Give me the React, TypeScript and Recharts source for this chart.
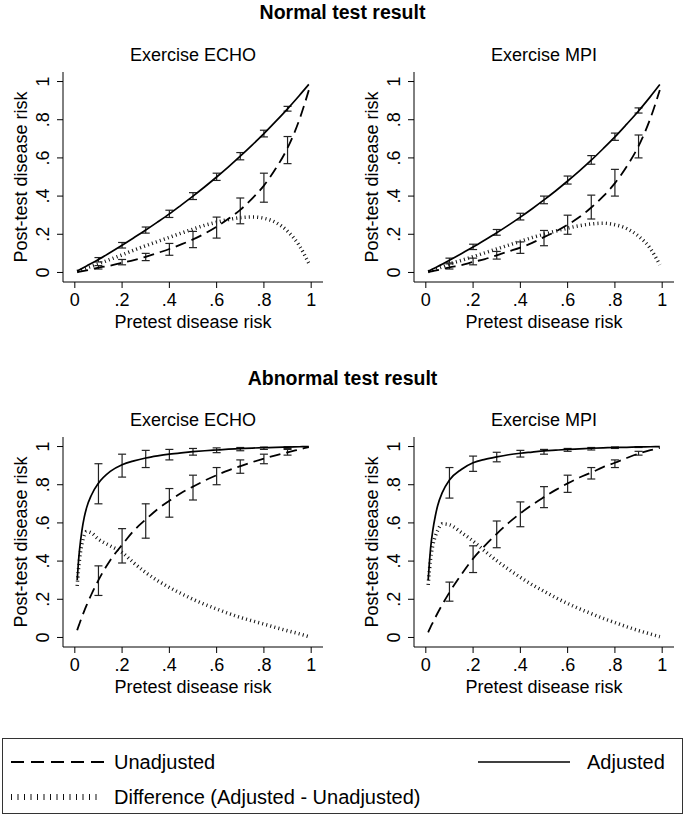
import React from 'react';
import {ComposedChart, Line, XAxis, YAxis, ErrorBar} from 'recharts';

// pretest risk grid for each curve
const normalRisk = [0.01, 0.05, 0.1, 0.15, 0.2, 0.25, 0.3, 0.35, 0.4, 0.45, 0.5, 0.55, 0.6, 0.65, 0.7, 0.75, 0.8, 0.85, 0.9, 0.95, 0.99];
const abnormalRisk = [0.01, 0.015, 0.02, 0.03, 0.04, 0.05, 0.07, 0.1, 0.15, 0.2, 0.25, 0.3, 0.35, 0.4, 0.45, 0.5, 0.55, 0.6, 0.65, 0.7, 0.75, 0.8, 0.85, 0.9, 0.95, 0.99];
// pretest risk where the confidence intervals are drawn
const barRisk = [0.1, 0.2, 0.3, 0.4, 0.5, 0.6, 0.7, 0.8, 0.9];
const riskTicks = [0, 0.2, 0.4, 0.6, 0.8, 1];

// Normal test result, exercise ECHO
const normEchoAdj = [0.007, 0.034, 0.068, 0.105, 0.143, 0.182, 0.222, 0.264, 0.307, 0.353, 0.4, 0.449, 0.5, 0.553, 0.609, 0.667, 0.727, 0.791, 0.857, 0.927, 0.985];
const normEchoUnadj = [0.002, 0.011, 0.025, 0.036, 0.051, 0.065, 0.082, 0.102, 0.123, 0.147, 0.173, 0.204, 0.24, 0.281, 0.328, 0.387, 0.455, 0.544, 0.652, 0.8, 0.955];
const normEchoDiff = [0.005, 0.023, 0.045, 0.069, 0.092, 0.117, 0.14, 0.162, 0.184, 0.206, 0.227, 0.247, 0.263, 0.277, 0.287, 0.291, 0.284, 0.262, 0.216, 0.14, 0.048];
const normEchoAdjLo = [0.055, 0.128, 0.206, 0.288, 0.382, 0.482, 0.59, 0.71, 0.845];
const normEchoAdjHi = [0.078, 0.157, 0.238, 0.326, 0.418, 0.52, 0.628, 0.745, 0.87];
const normEchoUnadjLo = [0.018, 0.04, 0.062, 0.09, 0.13, 0.18, 0.255, 0.368, 0.57];
const normEchoUnadjHi = [0.036, 0.068, 0.1, 0.152, 0.215, 0.29, 0.39, 0.52, 0.712];

// Normal test result, exercise MPI
const normMpiAdj = [0.006, 0.031, 0.064, 0.098, 0.133, 0.17, 0.208, 0.248, 0.29, 0.334, 0.38, 0.428, 0.479, 0.532, 0.588, 0.648, 0.71, 0.777, 0.846, 0.921, 0.984];
const normMpiUnadj = [0.002, 0.012, 0.027, 0.038, 0.055, 0.07, 0.09, 0.11, 0.13, 0.155, 0.185, 0.215, 0.25, 0.29, 0.34, 0.398, 0.468, 0.555, 0.662, 0.807, 0.956];
const normMpiDiff = [0.004, 0.02, 0.045, 0.063, 0.083, 0.103, 0.123, 0.143, 0.163, 0.183, 0.2, 0.217, 0.232, 0.245, 0.254, 0.258, 0.25, 0.23, 0.19, 0.125, 0.04];
const normMpiAdjLo = [0.05, 0.12, 0.195, 0.275, 0.36, 0.463, 0.567, 0.692, 0.835];
const normMpiAdjHi = [0.075, 0.148, 0.225, 0.31, 0.4, 0.505, 0.612, 0.73, 0.862];
const normMpiUnadjLo = [0.018, 0.04, 0.07, 0.1, 0.14, 0.2, 0.28, 0.4, 0.6];
const normMpiUnadjHi = [0.045, 0.075, 0.11, 0.16, 0.22, 0.3, 0.405, 0.54, 0.72];

// Abnormal test result, exercise ECHO
const abnEchoAdj = [0.3, 0.39, 0.46, 0.56, 0.63, 0.68, 0.745, 0.808, 0.87, 0.905, 0.925, 0.94, 0.951, 0.96, 0.967, 0.973, 0.978, 0.982, 0.986, 0.989, 0.992, 0.994, 0.996, 0.997, 0.999, 1.0];
const abnEchoUnadj = [0.038, 0.056, 0.073, 0.107, 0.139, 0.169, 0.225, 0.3, 0.405, 0.485, 0.56, 0.618, 0.672, 0.716, 0.757, 0.79, 0.822, 0.85, 0.875, 0.897, 0.918, 0.937, 0.954, 0.97, 0.985, 0.997];
const abnEchoDiff = [0.27, 0.35, 0.41, 0.49, 0.535, 0.555, 0.548, 0.515, 0.48, 0.445, 0.39, 0.34, 0.298, 0.262, 0.23, 0.2, 0.173, 0.149, 0.126, 0.105, 0.087, 0.07, 0.052, 0.035, 0.019, 0.004];
const abnEchoAdjLo = [0.7, 0.84, 0.89, 0.93, 0.955, 0.968, 0.978, 0.985, 0.99];
const abnEchoAdjHi = [0.91, 0.96, 0.98, 0.985, 0.99, 0.993, 0.995, 0.997, 0.999];
const abnEchoUnadjLo = [0.22, 0.39, 0.52, 0.63, 0.72, 0.8, 0.86, 0.91, 0.955];
const abnEchoUnadjHi = [0.375, 0.57, 0.7, 0.78, 0.85, 0.89, 0.93, 0.96, 0.985];

// Abnormal test result, exercise MPI
const abnMpiAdj = [0.3, 0.39, 0.465, 0.565, 0.635, 0.69, 0.76, 0.825, 0.88, 0.915, 0.933, 0.946, 0.957, 0.965, 0.971, 0.977, 0.981, 0.985, 0.988, 0.991, 0.993, 0.995, 0.996, 0.998, 0.999, 1.0];
const abnMpiUnadj = [0.027, 0.041, 0.054, 0.079, 0.104, 0.128, 0.173, 0.236, 0.329, 0.413, 0.481, 0.543, 0.6, 0.65, 0.695, 0.735, 0.773, 0.807, 0.838, 0.864, 0.892, 0.915, 0.94, 0.963, 0.981, 0.993];
const abnMpiDiff = [0.275, 0.35, 0.41, 0.485, 0.53, 0.56, 0.595, 0.59, 0.55, 0.505, 0.452, 0.402, 0.357, 0.315, 0.276, 0.242, 0.208, 0.178, 0.15, 0.125, 0.1, 0.078, 0.056, 0.036, 0.018, 0.004];
const abnMpiAdjLo = [0.73, 0.87, 0.92, 0.945, 0.96, 0.975, 0.982, 0.99, 0.995];
const abnMpiAdjHi = [0.89, 0.95, 0.97, 0.98, 0.985, 0.99, 0.995, 0.998, 0.999];
const abnMpiUnadjLo = [0.19, 0.34, 0.47, 0.58, 0.68, 0.76, 0.83, 0.89, 0.955];
const abnMpiUnadjHi = [0.29, 0.48, 0.61, 0.71, 0.79, 0.85, 0.89, 0.93, 0.975];

const FONT = '"Liberation Sans", Arial, Helvetica, sans-serif';
const INK = '#000';
const BAR_INK = '#222';

const fmt = (v: number) => (v === 0 ? '0' : v === 1 ? '1' : String(v).replace('0.', '.'));

function buildRows(
  risk: number[],
  adj: number[],
  unadj: number[],
  diff: number[],
  adjLo: number[],
  adjHi: number[],
  unLo: number[],
  unHi: number[],
) {
  return risk.map((x, i) => {
    const row: any = {x, adj: adj[i], unadj: unadj[i], diff: diff[i]};
    const b = barRisk.findIndex(v => Math.abs(v - x) < 1e-9);
    if (b >= 0) {
      row.adjErr = [adj[i] - adjLo[b], adjHi[b] - adj[i]];
      row.unadjErr = [unadj[i] - unLo[b], unHi[b] - unadj[i]];
    }
    return row;
  });
}

const RotatedTick = ({x, y, payload}: any) => (
  <text
    transform={`translate(${x},${y}) rotate(-90)`}
    textAnchor="middle"
    fontSize={18}
    fill={INK}>
    {fmt(payload.value)}
  </text>
);

const yTitle = (props: any) => {
  const vb = props?.viewBox;
  const cx = vb ? vb.x + vb.width - 36.5 : 26.5;
  const cy = vb ? vb.y + vb.height / 2 : 135;
  return (
    <text
      transform={`translate(${cx},${cy}) rotate(-90)`}
      textAnchor="middle"
      fontSize={18}
      fill={INK}>
      Post-test disease risk
    </text>
  );
};

// plot area is 260 x 210, placed 63px in from the left and 30px down inside each chart
function Panel({rows, title, left, top}: {rows: any[]; title: string; left: number; top: number}) {
  return (
    <div style={{position: 'absolute', left: left - 63, top: top - 30, width: 330, height: 295}}>
      <div
        style={{
          position: 'absolute',
          left: 63,
          top: 2,
          width: 260,
          textAlign: 'center',
          fontSize: 18,
          lineHeight: '22px',
          color: INK,
        }}>
        {title}
      </div>
      <ComposedChart width={330} height={295} data={rows} margin={{top: 30, right: 7, bottom: 0, left: 0}}>
        <XAxis
          dataKey="x"
          type="number"
          domain={[-0.05, 1.05]}
          ticks={riskTicks}
          tickFormatter={fmt}
          height={55}
          tickSize={6}
          tickMargin={5}
          axisLine={{stroke: INK}}
          tickLine={{stroke: INK}}
          tick={{fill: INK, fontSize: 18}}
          label={{value: 'Pretest disease risk', position: 'insideBottom', offset: 9, fill: INK, fontSize: 18}}
        />
        <YAxis
          type="number"
          domain={[-0.05, 1.05]}
          ticks={riskTicks}
          width={63}
          tickSize={6}
          tickMargin={8}
          axisLine={{stroke: INK}}
          tickLine={{stroke: INK}}
          tick={<RotatedTick />}
          label={yTitle}
        />
        <Line
          dataKey="diff"
          type="monotone"
          stroke="#111"
          strokeWidth={3.5}
          strokeDasharray="1 3.2"
          dot={false}
          isAnimationActive={false}
        />
        <Line
          dataKey="unadj"
          type="monotone"
          stroke={INK}
          strokeWidth={1.8}
          strokeDasharray="11 6"
          dot={false}
          isAnimationActive={false}>
          <ErrorBar dataKey="unadjErr" width={4} stroke={BAR_INK} strokeWidth={1.2} direction="y" />
        </Line>
        <Line dataKey="adj" type="monotone" stroke={INK} strokeWidth={1.7} dot={false} isAnimationActive={false}>
          <ErrorBar dataKey="adjErr" width={4} stroke={BAR_INK} strokeWidth={1.2} direction="y" />
        </Line>
      </ComposedChart>
    </div>
  );
}

const BigTitle = ({text, y}: {text: string; y: number}) => (
  <div
    style={{
      position: 'absolute',
      left: 0,
      top: y - 12,
      width: 685,
      textAlign: 'center',
      fontSize: 19.5,
      fontWeight: 'bold',
      lineHeight: '24px',
      color: INK,
    }}>
    {text}
  </div>
);

const KeyBox = () => (
  <svg style={{position: 'absolute', left: 2, top: 738}} width={681} height={76}>
    <rect x={0.5} y={0.5} width={680} height={75} fill="#fff" stroke="#333" strokeWidth={1} />
    <line x1={9} y1={24} x2={102} y2={24} stroke={INK} strokeWidth={1.8} strokeDasharray="13 7" />
    <text x={112} y={24} dominantBaseline="central" fontSize={20} fill={INK}>
      Unadjusted
    </text>
    <line x1={476} y1={24} x2={568} y2={24} stroke={INK} strokeWidth={1.7} />
    <text x={585} y={24} dominantBaseline="central" fontSize={20} fill={INK}>
      Adjusted
    </text>
    <line x1={9} y1={59} x2={100} y2={59} stroke="#111" strokeWidth={6} strokeDasharray="1 5.5" />
    <text x={112} y={59} dominantBaseline="central" fontSize={20} fill={INK}>
      Difference (Adjusted - Unadjusted)
    </text>
  </svg>
);

export default function App() {
  const normEcho = buildRows(normalRisk, normEchoAdj, normEchoUnadj, normEchoDiff, normEchoAdjLo, normEchoAdjHi, normEchoUnadjLo, normEchoUnadjHi);
  const normMpi = buildRows(normalRisk, normMpiAdj, normMpiUnadj, normMpiDiff, normMpiAdjLo, normMpiAdjHi, normMpiUnadjLo, normMpiUnadjHi);
  const abnEcho = buildRows(abnormalRisk, abnEchoAdj, abnEchoUnadj, abnEchoDiff, abnEchoAdjLo, abnEchoAdjHi, abnEchoUnadjLo, abnEchoUnadjHi);
  const abnMpi = buildRows(abnormalRisk, abnMpiAdj, abnMpiUnadj, abnMpiDiff, abnMpiAdjLo, abnMpiAdjHi, abnMpiUnadjLo, abnMpiUnadjHi);

  return (
    <div
      style={{
        position: 'absolute',
        left: 0,
        top: 0,
        width: 685,
        height: 820,
        overflow: 'hidden',
        background: '#fff',
        fontFamily: FONT,
      }}>
      <BigTitle text="Normal test result" y={12} />
      <Panel rows={normEcho} title="Exercise ECHO" left={63} top={72} />
      <Panel rows={normMpi} title="Exercise MPI" left={414} top={72} />
      <BigTitle text="Abnormal test result" y={378} />
      <Panel rows={abnEcho} title="Exercise ECHO" left={63} top={436.5} />
      <Panel rows={abnMpi} title="Exercise MPI" left={414} top={436.5} />
      <KeyBox />
    </div>
  );
}
